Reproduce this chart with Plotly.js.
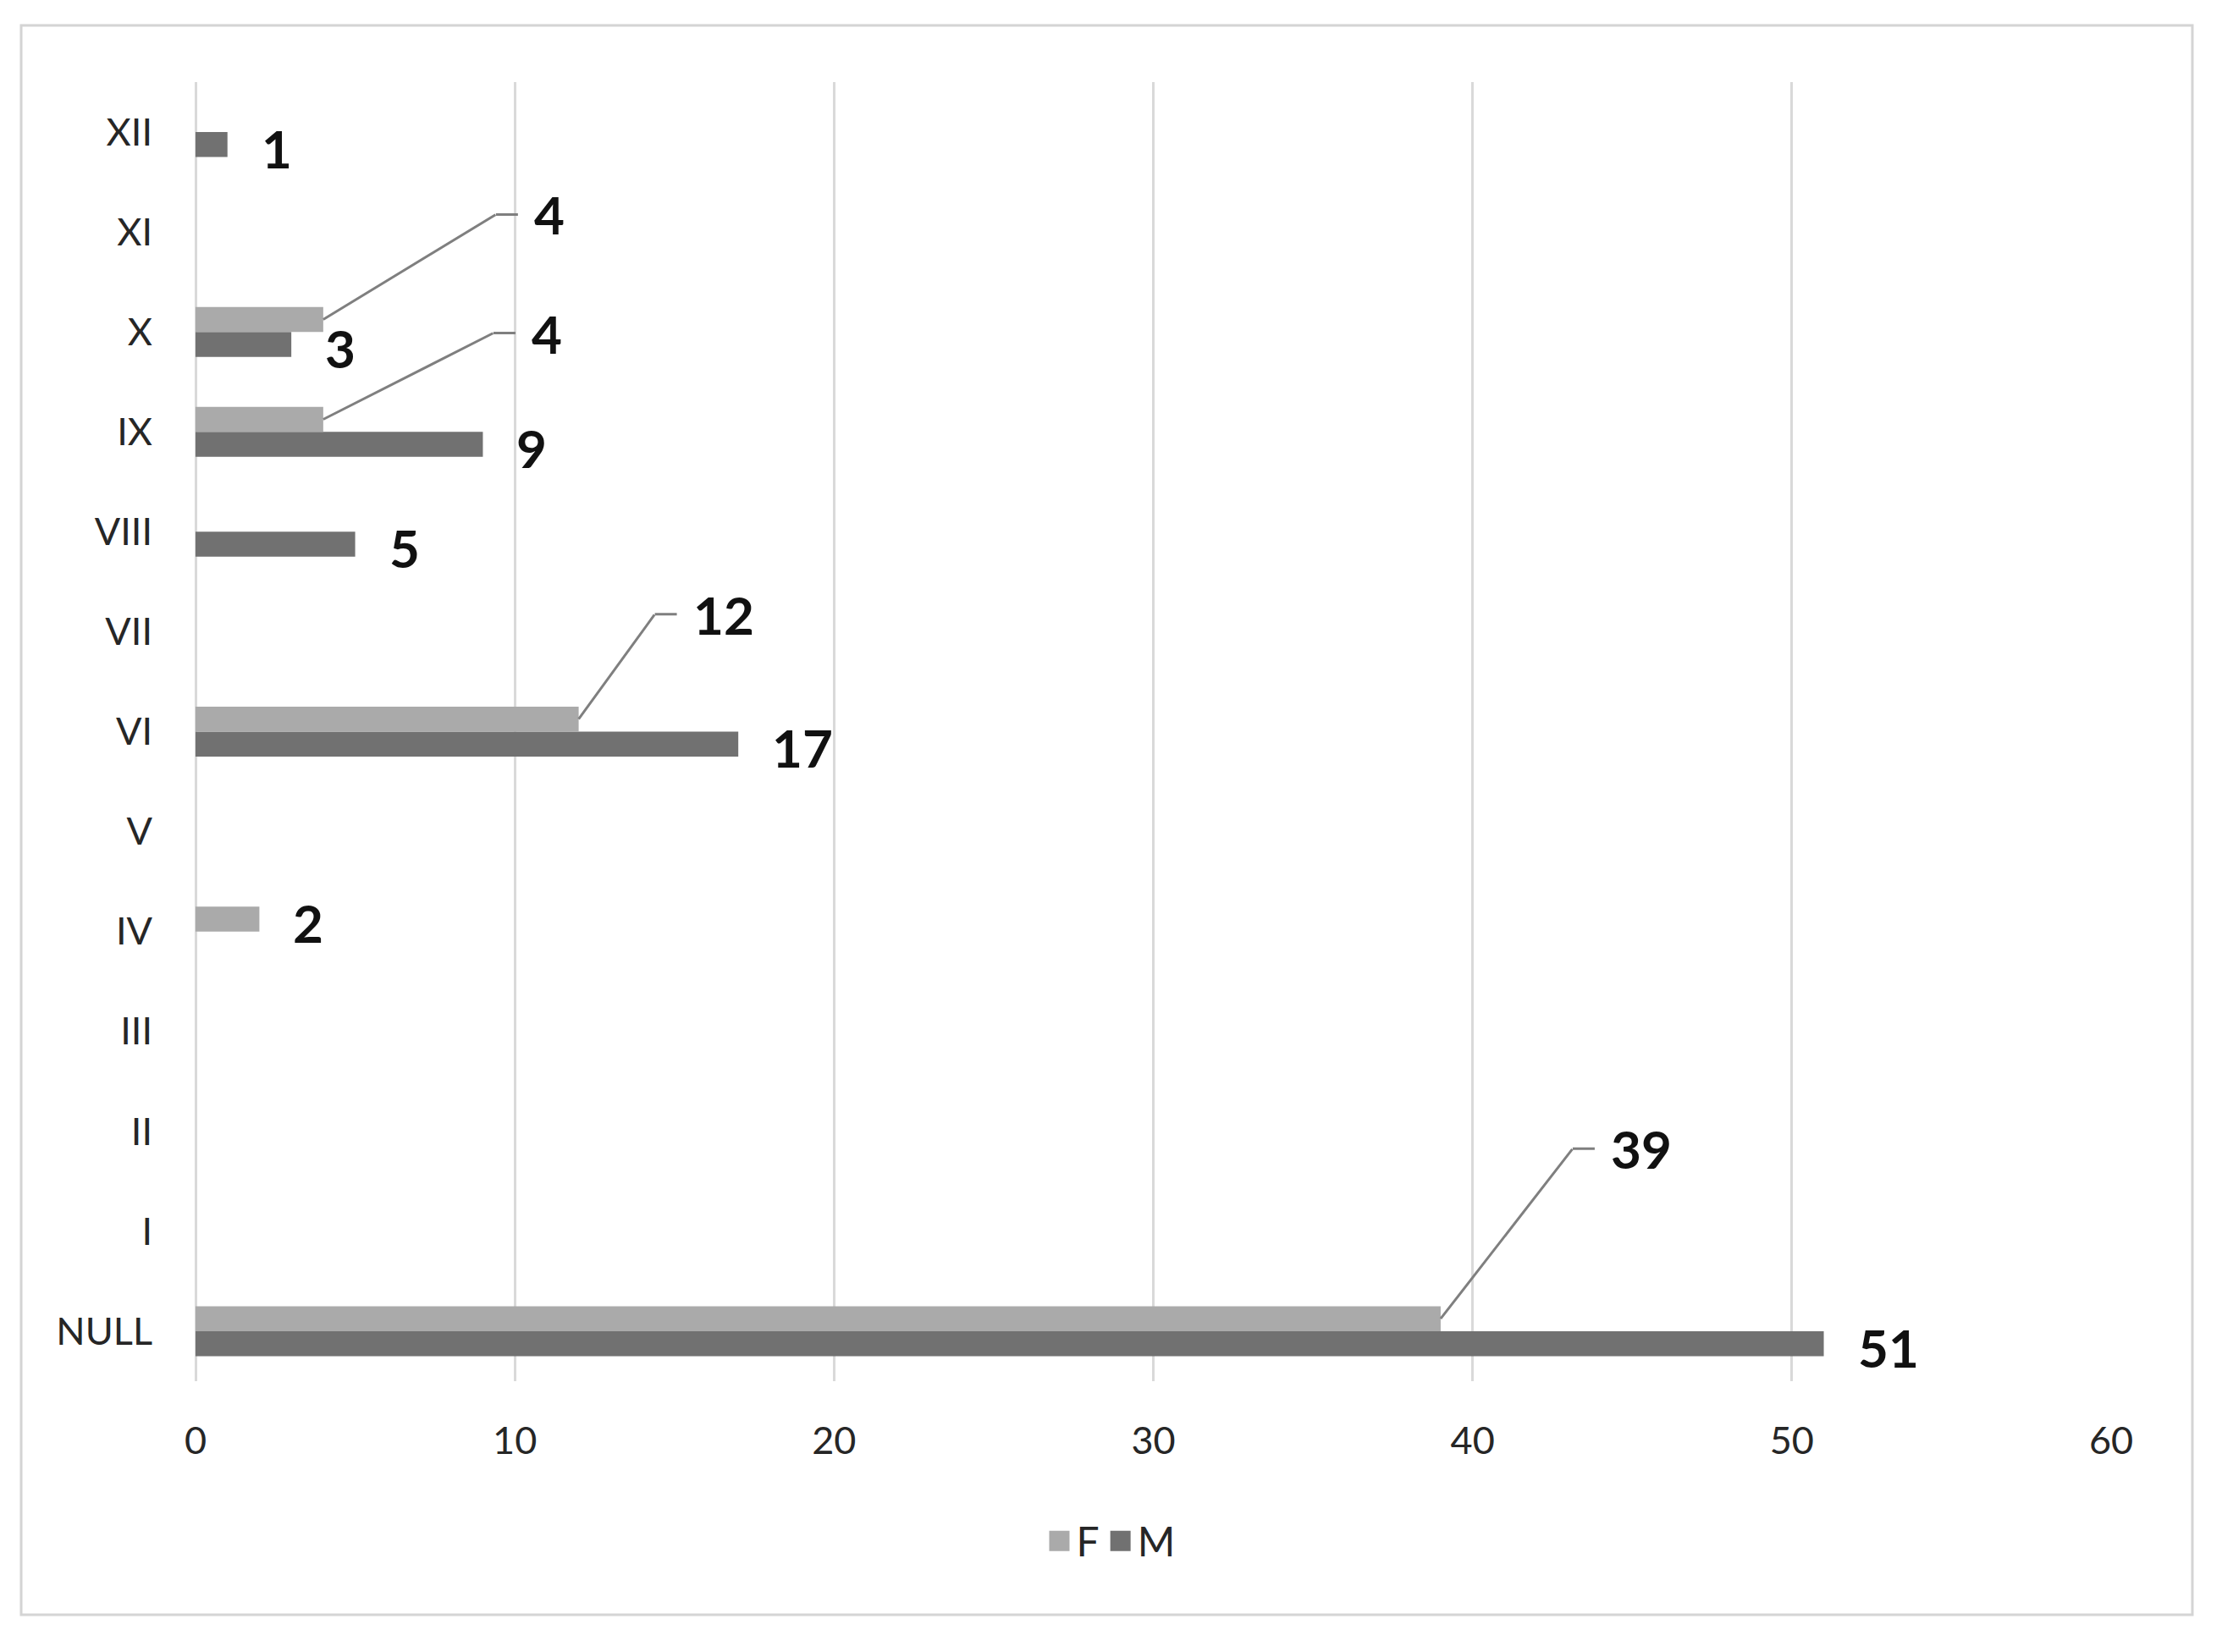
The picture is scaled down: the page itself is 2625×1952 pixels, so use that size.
<!DOCTYPE html>
<html>
<head>
<meta charset="utf-8">
<script src="https://cdn.plot.ly/plotly-3.0.1.min.js"></script>
<style>
  html, body { margin: 0; padding: 0; background: #ffffff; }
  #chart { width: 2625px; height: 1952px; }
</style>
</head>
<body>
<div id="chart"></div>
<script>
// ---- data ----
const categories = ['NULL', 'I', 'II', 'III', 'IV', 'V', 'VI', 'VII', 'VIII', 'IX', 'X', 'XI', 'XII'];
const femaleValues = [39, 0, 0, 0, 2, 0, 12, 0, 0, 4, 4, 0, 0];
const maleValues   = [51, 0, 0, 0, 0, 0, 17, 0, 5, 9, 3, 0, 1];
const seriesNames = ['F', 'M'];
const xTickValues = [0, 10, 20, 30, 40, 50, 60];

// ---- style / layout settings (not data) ----
const W = 2625, H = 1952;
const margin = { l: 231, r: 131, t: 97, b: 320 };
const plotW = W - margin.l - margin.r;
const plotH = H - margin.t - margin.b;
const colorF = '#aaaaaa';
const colorM = '#717171';
const fontFamily = 'Lato, "Open Sans", "Noto Sans", sans-serif';
const bargap = 0.5;
const bandPx = plotH / categories.length;
const barOffsetPx = bandPx * (1 - bargap) / 4;   // centre of each bar relative to category centre
const labelGapPx = 38;
const leaderColor = '#7f7f7f';
// callout offsets (pixels) for labels with leader lines, keyed by category
const callouts = {
  'NULL': { dx: 156, dy: -201 },
  'VI':   { dx: 90,  dy: -124 },
  'X':    { dx: 204, dy: -124 },
  'IX':   { dx: 201, dy: -102 }
};
const calloutSeg = 26;
const calloutPad = 18;

const traceM = {
  type: 'bar', orientation: 'h', name: seriesNames[1],
  y: categories, x: maleValues,
  marker: { color: colorM, line: { width: 0 } },
  hoverinfo: 'skip'
};
const traceF = {
  type: 'bar', orientation: 'h', name: seriesNames[0],
  y: categories, x: femaleValues,
  marker: { color: colorF, line: { width: 0 } },
  hoverinfo: 'skip'
};

const labelFont = { family: fontFamily, size: 62, color: '#111111' };
const annotations = [];

// M labels: right of the bar end
categories.forEach((c, i) => {
  const v = maleValues[i];
  if (v > 0) {
    annotations.push({
      x: v, y: c, xref: 'x', yref: 'y',
      text: '<b>' + v + '</b>', showarrow: false,
      xanchor: 'left', yanchor: 'middle',
      xshift: labelGapPx, yshift: -barOffsetPx - 4,
      font: labelFont
    });
  }
});

// F labels: either plain or with a leader line
categories.forEach((c, i) => {
  const v = femaleValues[i];
  if (!(v > 0)) return;
  const co = callouts[c];
  if (!co) {
    annotations.push({
      x: v, y: c, xref: 'x', yref: 'y',
      text: '<b>' + v + '</b>', showarrow: false,
      xanchor: 'left', yanchor: 'middle',
      xshift: labelGapPx, yshift: barOffsetPx - 4,
      font: labelFont
    });
  } else {
    // diagonal part of the leader line
    annotations.push({
      x: v, y: c, xref: 'x', yref: 'y',
      text: ' ', font: { size: 1, color: 'rgba(0,0,0,0)' },
      showarrow: true, arrowhead: 0, arrowwidth: 3, arrowcolor: leaderColor,
      ax: co.dx, ay: co.dy, standoff: 0, borderpad: 0,
      yshift: barOffsetPx
    });
    // short horizontal part + the label
    annotations.push({
      x: v, y: c, xref: 'x', yref: 'y',
      text: '<b>' + v + '</b>', font: labelFont,
      showarrow: true, arrowhead: 0, arrowwidth: 3, arrowcolor: leaderColor,
      ax: calloutSeg, ay: 0, standoff: 0, borderpad: calloutPad,
      xanchor: 'left', yanchor: 'middle',
      xshift: co.dx, yshift: barOffsetPx - co.dy
    });
  }
});

// outer frame in paper coordinates
const frame = { left: 25, top: 30, right: 2590, bottom: 1908 };
const px2paperX = p => (p - margin.l) / plotW;
const px2paperY = p => (margin.t + plotH - p) / plotH;

const layout = {
  width: W, height: H,
  margin: margin,
  paper_bgcolor: '#ffffff', plot_bgcolor: '#ffffff',
  barmode: 'group', bargap: bargap, bargroupgap: 0,
  hovermode: false,
  font: { family: fontFamily, color: '#262626' },
  xaxis: {
    range: [0, 60], tickvals: xTickValues,
    showgrid: true, gridcolor: '#d9d9d9', gridwidth: 3,
    zeroline: true, zerolinecolor: '#d9d9d9', zerolinewidth: 3,
    showline: false, ticks: '',
    tickfont: { family: fontFamily, size: 45, color: '#262626' },
    ticklabelstandoff: 40,
    fixedrange: true
  },
  yaxis: {
    type: 'category', categoryorder: 'array', categoryarray: categories,
    showgrid: false, zeroline: false, showline: false, ticks: '',
    tickfont: { family: fontFamily, size: 45, color: '#262626' },
    ticklabelstandoff: 50,
    fixedrange: true
  },
  showlegend: true,
  legend: {
    orientation: 'h', traceorder: 'reversed',
    xref: 'container', yref: 'container',
    x: 0.5, xanchor: 'center',
    y: 1 - 1821 / H, yanchor: 'middle',
    font: { family: fontFamily, size: 48, color: '#262626' },
    itemclick: false, itemdoubleclick: false
  },
  annotations: annotations,
  shapes: [{
    type: 'rect', xref: 'paper', yref: 'paper', layer: 'below',
    x0: px2paperX(frame.left), x1: px2paperX(frame.right),
    y0: px2paperY(frame.bottom), y1: px2paperY(frame.top),
    line: { color: '#d4d4d4', width: 3 }, fillcolor: 'rgba(0,0,0,0)'
  }]
};

Plotly.newPlot('chart', [traceM, traceF], layout, { staticPlot: true, displayModeBar: false })
  .then(gd => {
    // enlarge the legend swatches (keep Plotly's own placement, scale about the centre)
    gd.querySelectorAll('.legend .legendpoints path').forEach(p => {
      const t = p.getAttribute('transform') || '';
      p.setAttribute('transform', (t + ' scale(2.0)').trim());
    });
  });
</script>
</body>
</html>
